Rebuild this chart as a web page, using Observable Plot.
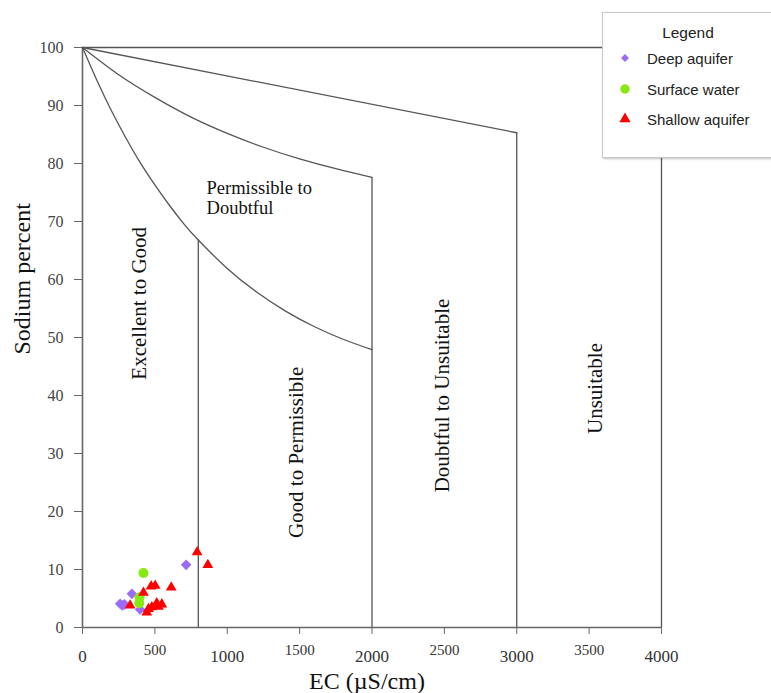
<!DOCTYPE html>
<html>
<head>
<meta charset="utf-8">
<script src="https://cdn.jsdelivr.net/npm/d3@7"></script>
<script src="https://cdn.jsdelivr.net/npm/@observablehq/plot@0.6"></script>
<style>
html, body { margin: 0; padding: 0; background: #fff; overflow: hidden; }
#wrap { position: relative; width: 771px; height: 693px; }
#wrap svg.plot { position: absolute; left: 0; top: 0; }
#wrap svg.plot text.serif, #wrap svg.plot .serif text { font-family: "Liberation Serif", "Times New Roman", serif; }
#legend { position: absolute; left: 602px; top: 12px; width: 190px; height: 144px;
  border: 1px solid #c9c9c9; background: #fff; box-shadow: 1px 1px 2px rgba(0,0,0,0.25);
  font-family: "Liberation Sans", Arial, sans-serif; color: #222; }
#legend .title { position: absolute; left: 0; width: 170px; top: 11px; text-align: center; font-size: 15.5px; }
#legend .item { position: absolute; left: 0; height: 20px; display: flex; align-items: center; font-size: 15px; }
#legend .item svg { width: 44px; height: 20px; }
</style>
</head>
<body>
<div id="wrap"></div>
<script>
// ---- Data ----
const naTicks = [0, 10, 20, 30, 40, 50, 60, 70, 80, 90, 100];
const ecTicksMajor = [0, 1000, 2000, 3000, 4000];
const ecTicksMinor = [500, 1500, 2500, 3500];

// Wilcox diagram boundaries
const curve1EC = [0, 100, 200, 300, 400, 500, 600, 700, 800, 1000, 1200, 1400, 1600, 1800, 2000];
const curve1Na = [100, 94.3, 89.1, 84.4, 80.1, 76.3, 72.8, 69.6, 66.8, 61.9, 57.9, 54.6, 51.9, 49.7, 47.9];
const curve2EC = [0, 250, 500, 750, 1000, 1250, 1500, 1750, 2000];
const curve2Na = [100, 95.3, 91.4, 88.0, 85.2, 82.8, 80.8, 79.1, 77.6];
const line3EC = [0, 3000];
const line3Na = [100, 85.3];
const dividerEC = [800, 2000, 3000, 4000];
const dividerTop = [66.8, 77.6, 85.3, 100];

// Region labels
const regionNames = ["Excellent to Good", "Good to Permissible", "Doubtful to Unsuitable", "Unsuitable"];
const regionEC = [394, 1478, 2487, 3544];
const regionNa = [55.9, 30.2, 40.0, 41.2];
const pdLabel = "Permissible to\nDoubtful";
const pdEC = 857;
const pdNa = 74.1;

// Samples
const deepEC = [716, 341, 260, 290, 398, 275];
const deepNa = [10.8, 5.8, 4.1, 4.0, 3.1, 3.8];
const surfEC = [421, 394, 392];
const surfNa = [9.4, 5.2, 4.2];
const shallowEC = [792, 866, 421, 474, 502, 613, 329, 456, 444, 513, 548, 525, 479];
const shallowNa = [13.0, 10.8, 6.0, 7.1, 7.2, 6.9, 3.8, 3.2, 2.6, 4.2, 4.0, 3.6, 3.5];

const seriesNames = ["Deep aquifer", "Surface water", "Shallow aquifer"];
const seriesColors = ["#9b6cf7", "#86ea12", "#ff0000"];
const seriesSymbols = ["diamond2", "circle", "triangle"];

// ---- Build tables ----
const pts = (xs, ys) => xs.map((x, i) => ({ec: x, na: ys[i]}));
const curve1 = pts(curve1EC, curve1Na);
const curve2 = pts(curve2EC, curve2Na);
const line3 = pts(line3EC, line3Na);
const dividers = pts(dividerEC, dividerTop);
const regions = regionNames.map((n, i) => ({name: n, ec: regionEC[i], na: regionNa[i]}));
const deep = pts(deepEC, deepNa);
const surf = pts(surfEC, surfNa);
const shallow = pts(shallowEC, shallowNa);

const lineColor = "#555";
const serif = '"Liberation Serif", "Times New Roman", serif';

const chart = Plot.plot({
  width: 771,
  height: 693,
  marginLeft: 82,
  marginRight: 110,
  marginTop: 47,
  marginBottom: 66,
  x: {domain: [0, 4000]},
  y: {domain: [0, 100]},
  style: {fontFamily: serif, background: "transparent", color: "#333"},
  marks: [
    // tick marks (labels drawn as serif text marks below)
    Plot.axisY({ticks: naTicks, tickSize: 8, tickFormat: () => "", label: null, stroke: "#666"}),
    Plot.axisX({ticks: [...ecTicksMajor, ...ecTicksMinor], tickSize: 7, tickFormat: () => "", label: null, stroke: "#666"}),
    Plot.text(naTicks, {y: d => d, text: d => String(d), frameAnchor: "left", dx: -19, textAnchor: "end", fontSize: 16, fontFamily: serif, fill: "#444", className: "serif"}),
    Plot.text(ecTicksMajor, {x: d => d, text: d => String(d), frameAnchor: "bottom", dy: 29, lineAnchor: "middle", fontSize: 17, fontFamily: serif, fill: "#333", className: "serif"}),
    Plot.text(ecTicksMinor, {x: d => d, text: d => String(d), frameAnchor: "bottom", dy: 23, lineAnchor: "middle", fontSize: 15, fontFamily: serif, fill: "#333", className: "serif"}),
    Plot.text(["Sodium percent"], {frameAnchor: "left", dx: -60, dy: 17, rotate: -90, fontSize: 24, fontFamily: serif, fill: "#111", className: "serif"}),
    Plot.text(["EC (µS/cm)"], {frameAnchor: "bottom", dx: -5, dy: 61, fontSize: 24, fontFamily: serif, fill: "#111", className: "serif"}),
    // frame axes
    Plot.ruleX([0], {y1: 0, y2: 100, stroke: "#666", strokeWidth: 1.6}),
    Plot.ruleY([0], {x1: 0, x2: 4000, stroke: "#666", strokeWidth: 1.6}),
    // boundaries
    Plot.ruleY([100], {x1: 0, x2: 4000, stroke: lineColor, strokeWidth: 1.3}),
    Plot.ruleX(dividers, {x: "ec", y1: 0, y2: "na", stroke: lineColor, strokeWidth: 1.3}),
    Plot.line(curve1, {x: "ec", y: "na", curve: "natural", stroke: lineColor, strokeWidth: 1.3}),
    Plot.line(curve2, {x: "ec", y: "na", curve: "natural", stroke: lineColor, strokeWidth: 1.3}),
    Plot.line(line3, {x: "ec", y: "na", stroke: lineColor, strokeWidth: 1.3}),
    // region labels
    Plot.text(regions, {x: "ec", y: "na", text: "name", rotate: -90, fontSize: 21, fontFamily: serif, fill: "#111", className: "serif"}),
    Plot.text([pdLabel], {x: () => pdEC, y: () => pdNa, textAnchor: "start", lineAnchor: "middle", lineHeight: 1.08, fontSize: 18.5, fontFamily: serif, fill: "#111", className: "serif"}),
    // samples
    Plot.dot(deep, {x: "ec", y: "na", symbol: () => seriesSymbols[0], r: 4.8, fill: seriesColors[0], stroke: "none"}),
    Plot.dot(surf, {x: "ec", y: "na", symbol: () => seriesSymbols[1], r: 5, fill: seriesColors[1], stroke: "none"}),
    Plot.dot(shallow, {x: "ec", y: "na", symbol: () => seriesSymbols[2], r: 4, fill: seriesColors[2], stroke: "none"})
  ]
});
chart.classList.add("plot");
const wrap = document.getElementById("wrap");
wrap.appendChild(chart);

// ---- Legend ----
const legend = document.createElement("div");
legend.id = "legend";
const title = document.createElement("div");
title.className = "title";
title.textContent = "Legend";
legend.appendChild(title);
const itemTops = [35, 66, 96];
const symSizes = [40, 70, 55];
seriesNames.forEach((name, i) => {
  const item = document.createElement("div");
  item.className = "item";
  item.style.top = itemTops[i] + "px";
  const s = d3.create("svg").attr("width", 44).attr("height", 20);
  s.append("path")
    .attr("transform", "translate(22,10)")
    .attr("d", d3.symbol(i === 0 ? d3.symbolDiamond2 : i === 1 ? d3.symbolCircle : d3.symbolTriangle, symSizes[i])())
    .attr("fill", seriesColors[i]);
  item.appendChild(s.node());
  const t = document.createElement("span");
  t.textContent = name;
  item.appendChild(t);
  legend.appendChild(item);
});
wrap.appendChild(legend);
</script>
</body>
</html>
